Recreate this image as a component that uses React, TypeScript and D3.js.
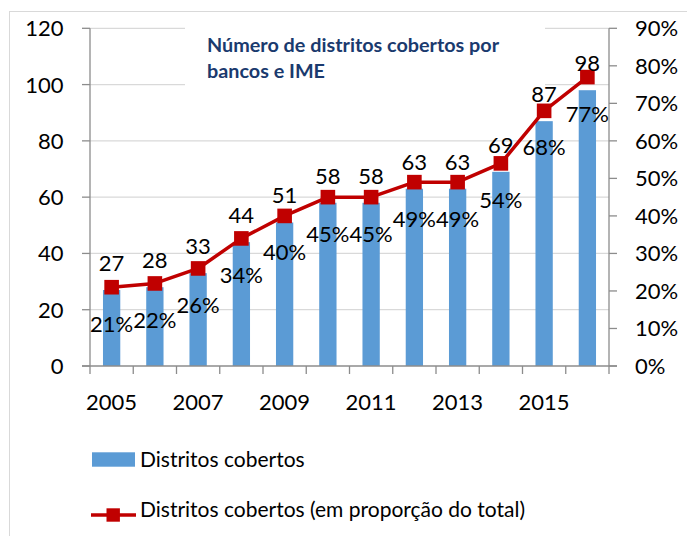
import React from "react";
import * as d3 from "d3";

const years = ["2005","2006","2007","2008","2009","2010","2011","2012","2013","2014","2015","2016"];
const counts = [27, 28, 33, 44, 51, 58, 58, 63, 63, 69, 87, 98];
const shares = [21, 22, 26, 34, 40, 45, 45, 49, 49, 54, 68, 77];
const leftTicks = [0, 20, 40, 60, 80, 100, 120];
const rightTicks = [0, 10, 20, 30, 40, 50, 60, 70, 80, 90];
const xTickLabels = ["2005", "2007", "2009", "2011", "2013", "2015"];
const titleLines = ["Número de distritos cobertos por", "bancos e IME"];
const legendLabels = ["Distritos cobertos", "Distritos cobertos (em proporção do total)"];

const W = 687, H = 536;
const L = 90, R = 609, T = 28.3, B = 366;
const FONT = "Lato, 'Open Sans', sans-serif";
const BLUE = "#5b9bd5";
const RED = "#c00000";
const AXIS = "#8c8c8c";
const GRID = "#d9d9d9";
const FS = 22;

export default function App() {
  const x = d3.scaleBand<string>().domain(years).range([L, R]).paddingInner(0.6).paddingOuter(0.3);
  const step = x.step();
  const yL = d3.scaleLinear().domain([0, 120]).range([B, T]);
  const yR = d3.scaleLinear().domain([0, 90]).range([B, T]);
  const cx = (y: string) => (x(y) as number) + x.bandwidth() / 2;
  const line = d3.line<number>().x((_, i) => cx(years[i])).y((d) => yR(d));
  const boundaries = d3.range(years.length + 1).map((i) => L + i * step);

  return (
    <svg width={W} height={H} style={{ position: "absolute", left: 0, top: 0 }} fontFamily={FONT}>
      <rect x={0} y={0} width={W} height={H} fill="#fff" />
      <rect x={9.5} y={11.5} width={W + 20} height={H + 20} fill="none" stroke={GRID} strokeWidth={1} />
      {leftTicks.filter((t) => t > 0).map((t) => (
        <line key={t} x1={L} x2={R} y1={yL(t)} y2={yL(t)} stroke={GRID} strokeWidth={1.2} />
      ))}
      <rect x={185} y={16} width={360} height={84} fill="#fff" />
      <g fontWeight="bold" fill="#1a3a6e" fontSize={19.8}>
        <text x={207} y={52}>{titleLines[0]}</text>
        <text x={207} y={78}>{titleLines[1]}</text>
      </g>
      {years.map((yr, i) => (
        <rect key={yr} x={x(yr)} y={yL(counts[i])} width={x.bandwidth()} height={B - yL(counts[i])} fill={BLUE} />
      ))}
      <line x1={L} x2={L} y1={T} y2={B} stroke={AXIS} strokeWidth={1.3} />
      <line x1={R} x2={R} y1={T} y2={B} stroke={AXIS} strokeWidth={1.3} />
      <line x1={L - 8} x2={R + 8} y1={B} y2={B} stroke={AXIS} strokeWidth={1.3} />
      {leftTicks.map((t) => (
        <g key={t}>
          <line x1={L - 8} x2={L} y1={yL(t)} y2={yL(t)} stroke={AXIS} strokeWidth={1.3} />
          <text x={63.5} y={yL(t) + 8} textAnchor="end" fontSize={FS} fill="#000">{t}</text>
        </g>
      ))}
      {rightTicks.map((t) => (
        <g key={t}>
          <line x1={R} x2={R + 8} y1={yR(t)} y2={yR(t)} stroke={AXIS} strokeWidth={1.3} />
          <text x={635} y={yR(t) + 8} fontSize={FS} fill="#000">{t + "%"}</text>
        </g>
      ))}
      {boundaries.map((bx, i) => (
        <line key={i} x1={bx} x2={bx} y1={B} y2={B + 8} stroke={AXIS} strokeWidth={1.3} />
      ))}
      {xTickLabels.map((yr) => (
        <text key={yr} x={cx(yr)} y={409.5} textAnchor="middle" fontSize={FS} fill="#000">{yr}</text>
      ))}
      <path d={line(shares) as string} fill="none" stroke={RED} strokeWidth={3.5} strokeLinejoin="round" />
      {shares.map((s, i) => (
        <rect key={i} x={cx(years[i]) - 7.3} y={yR(s) - 7.3} width={14.6} height={14.6} fill={RED} />
      ))}
      {counts.map((c, i) => (
        <text key={"c" + i} x={cx(years[i])} y={yL(c) - 19} textAnchor="middle" fontSize={FS} fill="#000">{c}</text>
      ))}
      {shares.map((s, i) => (
        <text key={"s" + i} x={cx(years[i])} y={yR(s) + 44.5} textAnchor="middle" fontSize={FS} fill="#000">{s + "%"}</text>
      ))}
      <rect x={92} y={452.3} width={43} height={14.4} fill={BLUE} />
      <text x={140} y={466.7} fontSize={21} fill="#000">{legendLabels[0]}</text>
      <line x1={91} x2={136} y1={515} y2={515} stroke={RED} strokeWidth={3.5} />
      <rect x={106.5} y={508.3} width={13.4} height={13.4} fill={RED} />
      <text x={140} y={516.7} fontSize={21} fill="#000">{legendLabels[1]}</text>
    </svg>
  );
}
